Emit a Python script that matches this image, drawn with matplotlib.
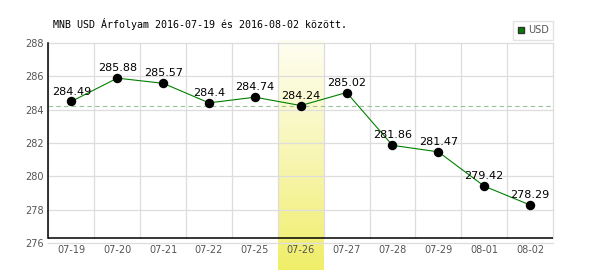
import numpy as np
import matplotlib
matplotlib.use("Agg")
import matplotlib.pyplot as plt
from matplotlib.lines import Line2D
from matplotlib.colors import LinearSegmentedColormap
import matplotlib.transforms as mtransforms

# ---- data ----
dates = ["07-19", "07-20", "07-21", "07-22", "07-25", "07-26",
         "07-27", "07-28", "07-29", "08-01", "08-02"]
values = [284.49, 285.88, 285.57, 284.4, 284.74, 284.24,
          285.02, 281.86, 281.47, 279.42, 278.29]
highlight_date = "07-26"
y_ticks = [276, 278, 280, 282, 284, 286, 288]
title = "MNB USD Árfolyam 2016-07-19 és 2016-08-02 között."
series_name = "USD"

W, H = 600, 270
fig = plt.figure(figsize=(W / 100, H / 100), dpi=100)
fig.patch.set_facecolor("white")

left_px, right_px, top_px, bot_px = 48.5, 553, 42.7, 243.3
ax = fig.add_axes([left_px / W, (H - bot_px) / H,
                   (right_px - left_px) / W, (bot_px - top_px) / H])
ax.patch.set_alpha(0)

x = np.arange(len(dates))
hi = dates.index(highlight_date)

# highlight gradient band (extends below axes to figure bottom)
cmap = LinearSegmentedColormap.from_list("hl", ["#fefef2", "#f8f6b4", "#f0ee68"])
grad = np.linspace(0, 1, 256).reshape(-1, 1)
trans = mtransforms.blended_transform_factory(ax.transData, fig.transFigure)
ax.imshow(grad, cmap=cmap, aspect="auto", origin="upper",
          extent=(hi - 0.5, hi + 0.5, 0, (H - 40) / H),
          transform=trans, clip_on=False, zorder=0, interpolation="bilinear")

# grid
for yt in y_ticks:
    ax.axhline(yt, color="#dddddd", lw=0.9, zorder=1, clip_on=False)
for k in range(len(dates) + 1):
    ax.axvline(k - 0.5, ymin=0.025, ymax=1, color="#dddddd", lw=0.9,
               zorder=1, clip_on=False)

# reference dashed line at the highlighted value
ax.axhline(values[hi], color="#99c299", lw=0.8, ls=(0, (4, 3)), zorder=2)

# series
ax.plot(x, values, color="#008000", lw=0.8, zorder=3)
ax.plot(x, values, "o", color="black", ms=5.8, zorder=4)
for xi, v in zip(x, values):
    ax.annotate(f"{v:g}", (xi, v), xytext=(0, 3.5), textcoords="offset points",
                ha="center", va="bottom", fontsize=8, color="black",
                family=["Liberation Sans Narrow", "DejaVu Sans"], zorder=5)

ax.set_xlim(-0.5, len(dates) - 0.5)
ax.set_ylim(y_ticks[0], y_ticks[-1])

# axes lines
for s in ["top", "right", "bottom"]:
    ax.spines[s].set_visible(False)
ax.spines["left"].set_color("black")
ax.spines["left"].set_linewidth(1.1)
ax.spines["left"].set_bounds(276.3, 288)
ax.axhline(276.3, color="black", lw=1.1, zorder=2)

ax.set_xticks(x)
ax.set_xticklabels(dates)
ax.set_yticks(y_ticks)
ax.tick_params(axis="both", length=0, labelsize=7, labelcolor="#555555")
ax.tick_params(axis="y", pad=3.6)
ax.tick_params(axis="x", pad=1.5)

fig.text(53 / W, 1 - 24 / H, title, fontsize=7.2, family="DejaVu Sans Mono",
         ha="left", va="center", color="black")

handle = Line2D([], [], marker="s", ls="", color="#008000",
                markeredgecolor="#333333", markersize=5)
leg = fig.legend([handle], [series_name], loc="upper right",
                 bbox_to_anchor=(553 / W, 1 - 21 / H), fontsize=7,
                 frameon=True, fancybox=False, handlelength=0.8,
                 handletextpad=0.3, borderpad=0.45, borderaxespad=0,
                 labelcolor="#555555")
leg.get_frame().set_edgecolor("#dddddd")
leg.get_frame().set_linewidth(1)

fig.savefig("out.png", dpi=100)
